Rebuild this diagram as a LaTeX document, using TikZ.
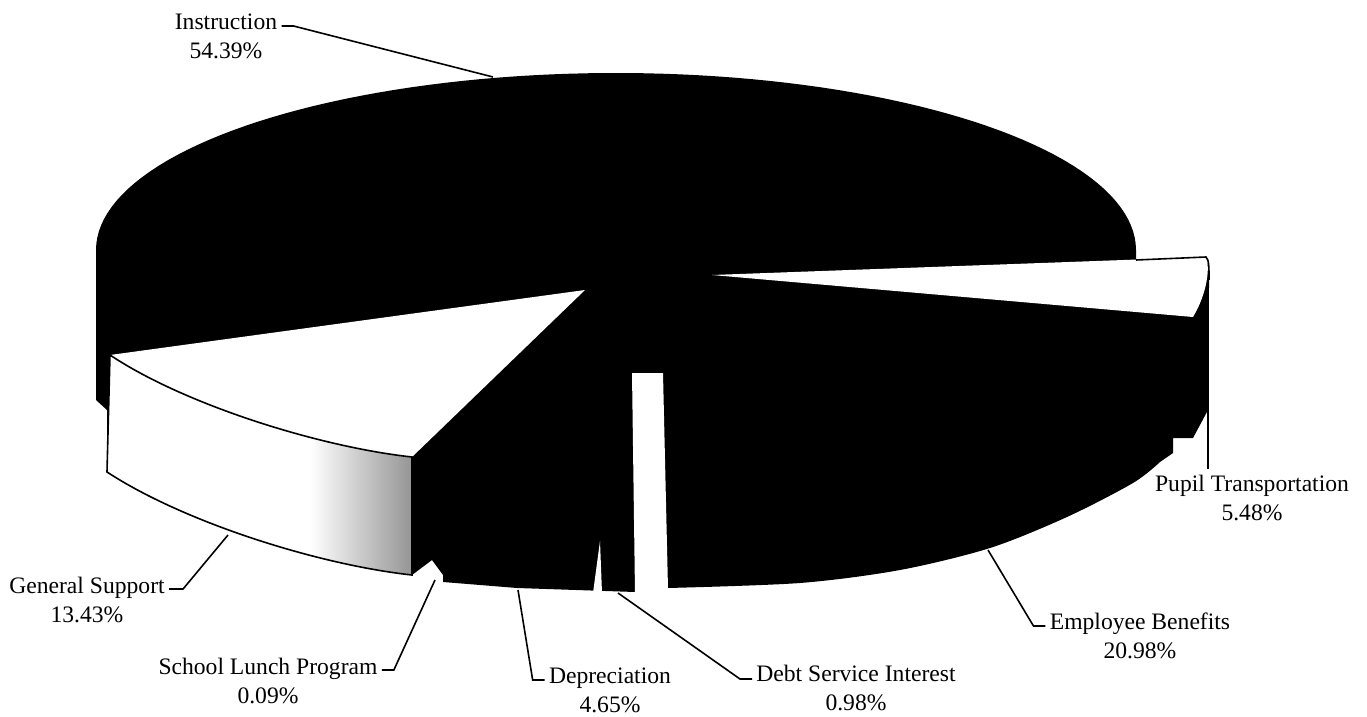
\documentclass[tikz,border=0pt]{standalone}
\usepackage{fontspec}
\setmainfont{Liberation Serif}

\tikzset{
  lbl/.style={align=center, inner sep=0pt, anchor=north,
    font=\fontsize{11.8}{14.5}\selectfont},
  leader/.style={line width=0.8pt},
  rim/.style={line width=0.8pt},
}

\begin{document}
\begin{tikzpicture}[x=0.5pt, y=-0.5pt]
\useasboundingbox (0,0) rectangle (1367,717);

% black body of the pie
\fill[black] (96,400) -- (96,250)
  -- plot[domain=180:360, samples=90] ({616+520*cos(\x)}, {250+177*sin(\x)})
  -- (1136,260) -- (1206,257) -- (1209,270) -- (1209,287) -- (1208,410)
  -- (1193,438) -- (1173,438) -- (1173,453)
  -- plot[smooth] coordinates {(1160,462) (1133,483) (1067,517) (990,548) (900,570) (800,583) (668,588)}
  -- (635,592) -- (517,588) -- (443,582) -- (443,575) -- (432,560) -- (412,575)
  -- (107,472) -- (107,410) -- cycle;

% gaps
\fill[white] (632,373) -- (663,373) -- (668,589) -- (635,593) -- cycle;
\fill[white] (593,593) -- (600,541) -- (602,593) -- cycle;

% pupil transportation
\fill[white] (712,275) -- (1206,257) .. controls (1210,266) and (1208,292) .. (1193,317) -- cycle;
\draw[rim] (1136,260) -- (1206,257) .. controls (1209,260) and (1209,266) .. (1209,280);

% general support
\fill[white] (110,355) .. controls (185,405) and (320,447) .. (412,457) -- (412,575)
  .. controls (320,565) and (185,523) .. (107,472) -- cycle;
\begin{scope}
\clip (110,355) .. controls (185,405) and (320,447) .. (412,457) -- (412,575)
  .. controls (320,565) and (185,523) .. (107,472) -- cycle;
\shade[left color=white, right color=black!42] (310,440) rectangle (413,580);
\end{scope}
\fill[white] (585,290) -- (110,355) .. controls (185,405) and (320,447) .. (412,457) -- cycle;
\draw[rim] (110,355) .. controls (185,405) and (320,447) .. (412,457) -- (412,575)
  .. controls (320,565) and (185,523) .. (107,472) -- cycle;

% labels
\node[lbl] (instr) at (226,13) {Instruction\\54.39\%};
\node[lbl] (gs) at (87,577) {General Support\\13.43\%};
\node[lbl] (sl) at (268,658) {School Lunch Program\\0.09\%};
\node[lbl] (dep) at (610,667) {Depreciation\\4.65\%};
\node[lbl] (dsi) at (856,665) {Debt Service Interest\\0.98\%};
\node[lbl] (eb) at (1140,612) {Employee Benefits\\20.98\%};
\node[lbl] (pupil) at (1252,475) {Pupil Transportation\\5.48\%};

\coordinate (instrPt) at (493,77);
\coordinate (gsPt) at (228,535);
\coordinate (slPt) at (435,580);
\coordinate (depPt) at (518,590);
\coordinate (dsiPt) at (618,593);
\coordinate (ebPt) at (988,550);
\coordinate (pupilPt) at (1208,282);

\draw[leader] ([xshift=2pt,yshift=-6.5pt]instr.north east) -- ++(12,0) -- (instrPt);
\draw[leader] ([xshift=2pt,yshift=-6pt]gs.north east) -- ++(14,0) -- (gsPt);
\draw[leader] ([xshift=2pt,yshift=-6pt]sl.north east) -- ++(12,0) -- (slPt);
\draw[leader] ([xshift=-2pt,yshift=-6.5pt]dep.north west) -- ++(-12,0) -- (depPt);
\draw[leader] ([xshift=-2pt,yshift=-7pt]dsi.north west) -- ++(-12,0) -- (dsiPt);
\draw[leader] ([xshift=-2pt,yshift=-7pt]eb.north west) -- ++(-12,0) -- (ebPt);
\draw[leader] ([yshift=3pt]pupil.north -| pupilPt) -- (pupilPt);
\end{tikzpicture}
\end{document}
